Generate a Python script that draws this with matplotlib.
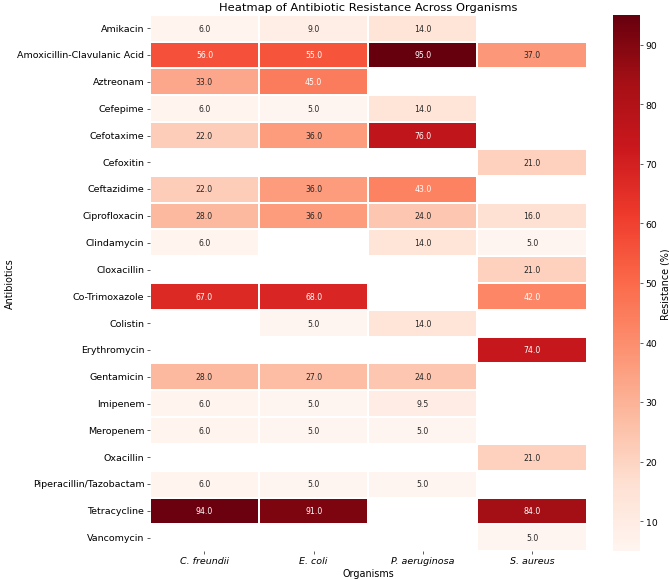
import matplotlib
matplotlib.use('Agg')
import matplotlib.pyplot as plt
import seaborn as sns
import numpy as np
import pandas as pd

nan = np.nan
antibiotics = ['Amikacin', 'Amoxicillin-Clavulanic Acid', 'Aztreonam', 'Cefepime', 'Cefotaxime',
               'Cefoxitin', 'Ceftazidime', 'Ciprofloxacin', 'Clindamycin', 'Cloxacillin',
               'Co-Trimoxazole', 'Colistin', 'Erythromycin', 'Gentamicin', 'Imipenem',
               'Meropenem', 'Oxacillin', 'Piperacillin/Tazobactam', 'Tetracycline', 'Vancomycin']
organisms = ['C. freundii', 'E. coli', 'P. aeruginosa', 'S. aureus']

c_freundii = [6, 56, 33, 6, 22, nan, 22, 28, 6, nan, 67, nan, nan, 28, 6, 6, nan, 6, 94, nan]
e_coli = [9, 55, 45, 5, 36, nan, 36, 36, nan, nan, 68, 5, nan, 27, 5, 5, nan, 5, 91, nan]
p_aeruginosa = [14, 95, nan, 14, 76, nan, 43, 24, 14, nan, nan, 14, nan, 24, 9.5, 5, nan, 5, nan, nan]
s_aureus = [nan, 37, nan, nan, nan, 21, nan, 16, 5, 21, 42, nan, 74, nan, nan, nan, 21, nan, 84, 5]

df = pd.DataFrame({'C. freundii': c_freundii, 'E. coli': e_coli,
                   'P. aeruginosa': p_aeruginosa, 'S. aureus': s_aureus}, index=antibiotics)

fig = plt.figure(figsize=(12, 10.4), dpi=55.75)
ax = fig.add_axes([0.224, 0.048, 0.653, 0.925])
cax = fig.add_axes([0.917, 0.048, 0.040, 0.925])

sns.heatmap(df, annot=True, fmt='.1f', cmap='Reds', linewidths=0.5, linecolor='white',
            ax=ax, cbar_ax=cax, cbar_kws={'label': 'Resistance (%)'}, annot_kws={'fontsize': 10})

ax.set_title('Heatmap of Antibiotic Resistance Across Organisms', fontsize=14.8)
ax.set_xlabel('Organisms', fontsize=12.5)
ax.set_ylabel('Antibiotics', fontsize=12.5, labelpad=3)
ax.set_xticklabels(organisms, rotation=0, style='italic', fontsize=12.3)
ax.set_yticklabels(antibiotics, rotation=0, fontsize=12.3)
cax.tick_params(labelsize=12)
cax.yaxis.label.set_size(12.5)

fig.savefig('out.png', dpi=55.75)
